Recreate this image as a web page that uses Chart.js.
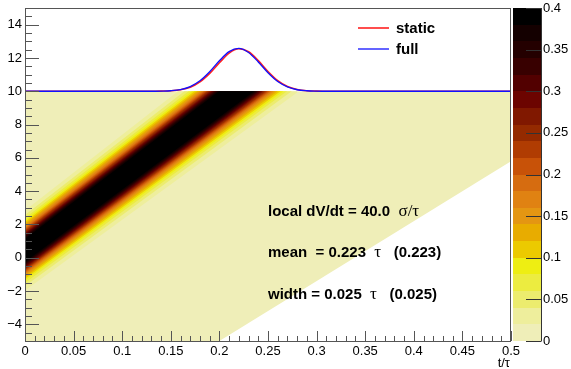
<!DOCTYPE html>
<html>
<head>
<meta charset="utf-8">
<script src="https://cdn.jsdelivr.net/npm/chart.js@4.4.0/dist/chart.umd.min.js"></script>
<style>
  html, body { margin: 0; padding: 0; background: #fff; }
  canvas { display: block; }
</style>
</head>
<body>
<canvas id="Pulse-Chart" width="571" height="369"></canvas>
<script>
// axis ticks
const xTicks = [0, 0.05, 0.1, 0.15, 0.2, 0.25, 0.3, 0.35, 0.4, 0.45, 0.5];
const xTickLabels = ['0', '0.05', '0.1', '0.15', '0.2', '0.25', '0.3', '0.35', '0.4', '0.45', '0.5'];
const yTicks = [-4, -2, 0, 2, 4, 6, 8, 10, 12, 14];
const yTickLabels = ['\u22124', '\u22122', '0', '2', '4', '6', '8', '10', '12', '14'];
const zTicks = [0, 0.05, 0.1, 0.15, 0.2, 0.25, 0.3, 0.35, 0.4];
const zTickLabels = ['0', '0.05', '0.1', '0.15', '0.2', '0.25', '0.3', '0.35', '0.4'];

// pulse shapes above the map
const curveX = [0, 0.1, 0.13, 0.14, 0.15, 0.16, 0.17, 0.18, 0.19, 0.2, 0.21, 0.22, 0.23, 0.24, 0.25, 0.26, 0.27, 0.28, 0.29, 0.3, 0.31, 0.32, 0.5];
const staticY = [10, 10, 10.0, 10.01, 10.03, 10.09, 10.24, 10.56, 11.07, 11.71, 12.29, 12.55, 12.37, 11.84, 11.19, 10.64, 10.29, 10.11, 10.03, 10.01, 10.0, 10, 10];
const fullY = [10, 10, 10.0, 10.01, 10.03, 10.10, 10.28, 10.63, 11.17, 11.83, 12.38, 12.58, 12.33, 11.76, 11.11, 10.58, 10.26, 10.09, 10.03, 10.01, 10.0, 10, 10];

// 2D map: range, zero boundary, band centre and level half widths (in y)
const mapX = [0, 0.5];
const mapY = [-5, 10];
const zeroEdgeX = [0.2, 0.5];
const zeroEdgeY = [-5, 5.8];
const bandX = [0, 0.28];
const bandY = [0.35, 12.75];
const levels = [0, 0.02, 0.04, 0.06, 0.08, 0.1, 0.12, 0.14, 0.16, 0.18, 0.2, 0.22, 0.24, 0.26, 0.28, 0.3, 0.32, 0.34, 0.36, 0.38, 0.4];
const halfStart = [2.40, 2.13, 1.95, 1.81, 1.70, 1.60, 1.51, 1.43, 1.35, 1.28, 1.21, 1.15, 1.08, 1.02, 0.96, 0.89, 0.83, 0.77, 0.70];
const halfEnd = [2.83, 2.51, 2.30, 2.14, 2.01, 1.89, 1.78, 1.69, 1.59, 1.51, 1.43, 1.36, 1.27, 1.20, 1.13, 1.05, 0.98, 0.91, 0.83];
const palette = ['#efeeb8', '#eeee9c', '#ecec6e', '#ecec40', '#eeee12', '#ecca00', '#e8ac00', '#e49612', '#e08212', '#d66c10',
                 '#c85208', '#b03c02', '#942a00', '#801800', '#6c0400', '#520000', '#380000', '#240000', '#140000', '#000000'];

const textFont = 'bold 15px "Liberation Sans", Arial, sans-serif';
const greekFont = '17px "Liberation Serif", serif';

const heatmap = {
    id: 'heatmap',
    beforeDatasetsDraw(chart) {
        const { ctx } = chart;
        const sx = chart.scales.x, sy = chart.scales.y, sz = chart.scales.z;
        const px = v => sx.getPixelForValue(v);
        const py = v => sy.getPixelForValue(v);
        const L = px(mapX[0]), R = px(mapX[1]), T = py(mapY[1]), B = py(mapY[0]);

        ctx.save();
        ctx.beginPath();
        ctx.rect(L, T, R - L, B - T);
        ctx.clip();

        // lowest bin covers everything above the zero edge
        ctx.fillStyle = palette[0];
        ctx.beginPath();
        ctx.moveTo(L, T);
        ctx.lineTo(L, B);
        for (let i = 0; i < zeroEdgeX.length; i++) ctx.lineTo(px(zeroEdgeX[i]), py(zeroEdgeY[i]));
        ctx.lineTo(R, T);
        ctx.closePath();
        ctx.fill();

        for (let k = 1; k < palette.length; k++) {
            const h0 = halfStart[k - 1], h1 = halfEnd[k - 1];
            ctx.fillStyle = palette[k];
            ctx.beginPath();
            ctx.moveTo(px(bandX[0]) - 2, py(bandY[0] + h0));
            ctx.lineTo(px(bandX[1]), py(bandY[1] + h1));
            ctx.lineTo(px(bandX[1]), py(bandY[1] - h1));
            ctx.lineTo(px(bandX[0]) - 2, py(bandY[0] - h0));
            ctx.closePath();
            ctx.fill();
        }
        ctx.restore();

        // colour bar
        const cL = 513, cR = 541;
        for (let k = 0; k < palette.length; k++) {
            const t = sz.getPixelForValue(levels[k + 1]);
            const b = sz.getPixelForValue(levels[k]);
            ctx.fillStyle = palette[k];
            ctx.fillRect(cL, Math.round(t), cR - cL, Math.round(b) - Math.round(t));
        }
    },
    afterDraw(chart) {
        const { ctx, chartArea } = chart;
        const sx = chart.scales.x, sy = chart.scales.y, sz = chart.scales.z;
        const { left, right, top, bottom } = chartArea;
        ctx.save();
        ctx.strokeStyle = '#555';
        ctx.lineWidth = 1;
        ctx.strokeRect(left + 0.5, top + 0.5, right - left - 1, bottom - top);

        // inward ticks
        ctx.beginPath();
        for (let i = 0; i <= 40; i++) {
            const v = -5 + i * 0.5;
            const yy = Math.round(sy.getPixelForValue(v)) + 0.5;
            const len = yTicks.includes(v) ? 14 : 7;
            ctx.moveTo(left, yy);
            ctx.lineTo(left + len, yy);
        }
        for (let i = 0; i <= 50; i++) {
            const xx = Math.round(sx.getPixelForValue(i * 0.01)) + 0.5;
            const len = i % 5 === 0 ? 10 : 5;
            ctx.moveTo(xx, bottom);
            ctx.lineTo(xx, bottom - len);
        }
        ctx.stroke();

        // colour bar axis
        ctx.strokeStyle = '#333';
        ctx.beginPath();
        ctx.moveTo(541.5, sz.getPixelForValue(0.4));
        ctx.lineTo(541.5, sz.getPixelForValue(0));
        zTicks.forEach(v => {
            const yy = Math.round(sz.getPixelForValue(v)) + 0.5;
            ctx.moveTo(526, yy);
            ctx.lineTo(541.5, yy);
        });
        ctx.stroke();

        // legend
        const ds = chart.data.datasets;
        [['static', 28], ['full', 49]].forEach(([name, yy]) => {
            const d = ds.find(s => s.label === name);
            ctx.strokeStyle = d.borderColor;
            ctx.lineWidth = d.borderWidth;
            ctx.beginPath();
            ctx.moveTo(358, yy);
            ctx.lineTo(389, yy);
            ctx.stroke();
            ctx.fillStyle = '#000';
            ctx.font = textFont;
            ctx.textBaseline = 'middle';
            ctx.fillText(name, 396, yy + 1);
        });

        // annotations: bold text with regular greek symbols
        const lines = [
            [['local dV/dt = 40.0  ', textFont], ['\u03c3/\u03c4', greekFont], 212],
            [['mean  = 0.223  ', textFont], ['\u03c4', greekFont], ['   (0.223)', textFont], 253],
            [['width = 0.025  ', textFont], ['\u03c4', greekFont], ['   (0.025)', textFont], 295]
        ];
        ctx.textBaseline = 'middle';
        ctx.fillStyle = '#000';
        lines.forEach(parts => {
            const yy = parts[parts.length - 1];
            let xx = 268;
            parts.slice(0, -1).forEach(([txt, font]) => {
                ctx.font = font;
                ctx.fillText(txt, xx, yy);
                xx += ctx.measureText(txt).width;
            });
        });

        // x axis title
        ctx.font = '13px "Liberation Sans", Arial, sans-serif';
        ctx.textAlign = 'right';
        ctx.fillText('t/\u03c4', 510, 363);
        ctx.restore();
    }
};

// scales keep their fitted size, no extra label padding in the layout
function fixPadding(s) {
    s.paddingTop = 0;
    s.paddingBottom = 0;
    s.paddingLeft = 0;
    s.paddingRight = 0;
}

window.onload = function () {
    const ctx = document.getElementById('Pulse-Chart').getContext('2d');
    const tickFont = { family: '"Liberation Sans", Arial, sans-serif', size: 13 };

    new Chart(ctx, {
        type: 'line',
        data: {
            datasets: [
                {
                    label: 'full',
                    data: curveX.map((v, i) => ({ x: v, y: fullY[i] })),
                    borderColor: '#1010ff',
                    borderWidth: 1.3,
                    pointRadius: 0,
                    cubicInterpolationMode: 'monotone'
                },
                {
                    label: 'static',
                    data: curveX.map((v, i) => ({ x: v, y: staticY[i] })),
                    borderColor: '#ff2020',
                    borderWidth: 1.6,
                    pointRadius: 0,
                    cubicInterpolationMode: 'monotone'
                }
            ]
        },
        options: {
            responsive: false,
            animation: false,
            devicePixelRatio: 1,
            layout: { padding: { top: 8, left: 0, right: 0, bottom: 0 } },
            plugins: { legend: { display: false }, tooltip: { enabled: false } },
            scales: {
                x: {
                    type: 'linear', min: 0, max: 0.5,
                    grid: { display: false, drawTicks: false },
                    border: { display: false },
                    ticks: { font: tickFont, color: '#000', padding: 3, autoSkip: false, maxRotation: 0,
                             callback: (v, i) => xTickLabels[i] },
                    afterBuildTicks: s => { s.ticks = xTicks.map(v => ({ value: v })); },
                    afterFit: s => { s.height = 28; fixPadding(s); }
                },
                y: {
                    type: 'linear', min: -5, max: 15,
                    grid: { display: false, drawTicks: false },
                    border: { display: false },
                    ticks: { font: tickFont, color: '#000', padding: 3, autoSkip: false,
                             callback: (v, i) => yTickLabels[i] },
                    afterBuildTicks: s => { s.ticks = yTicks.map(v => ({ value: v })); },
                    afterFit: s => { s.width = 25; fixPadding(s); }
                },
                z: {
                    type: 'linear', axis: 'y', position: 'right', min: 0, max: 0.4,
                    grid: { display: false, drawTicks: false },
                    border: { display: false },
                    ticks: { font: tickFont, color: '#000', padding: 32, autoSkip: false,
                             callback: (v, i) => zTickLabels[i] },
                    afterBuildTicks: s => { s.ticks = zTicks.map(v => ({ value: v })); },
                    afterFit: s => { s.width = 60; fixPadding(s); }
                }
            }
        },
        plugins: [heatmap]
    });
};
</script>
</body>
</html>
